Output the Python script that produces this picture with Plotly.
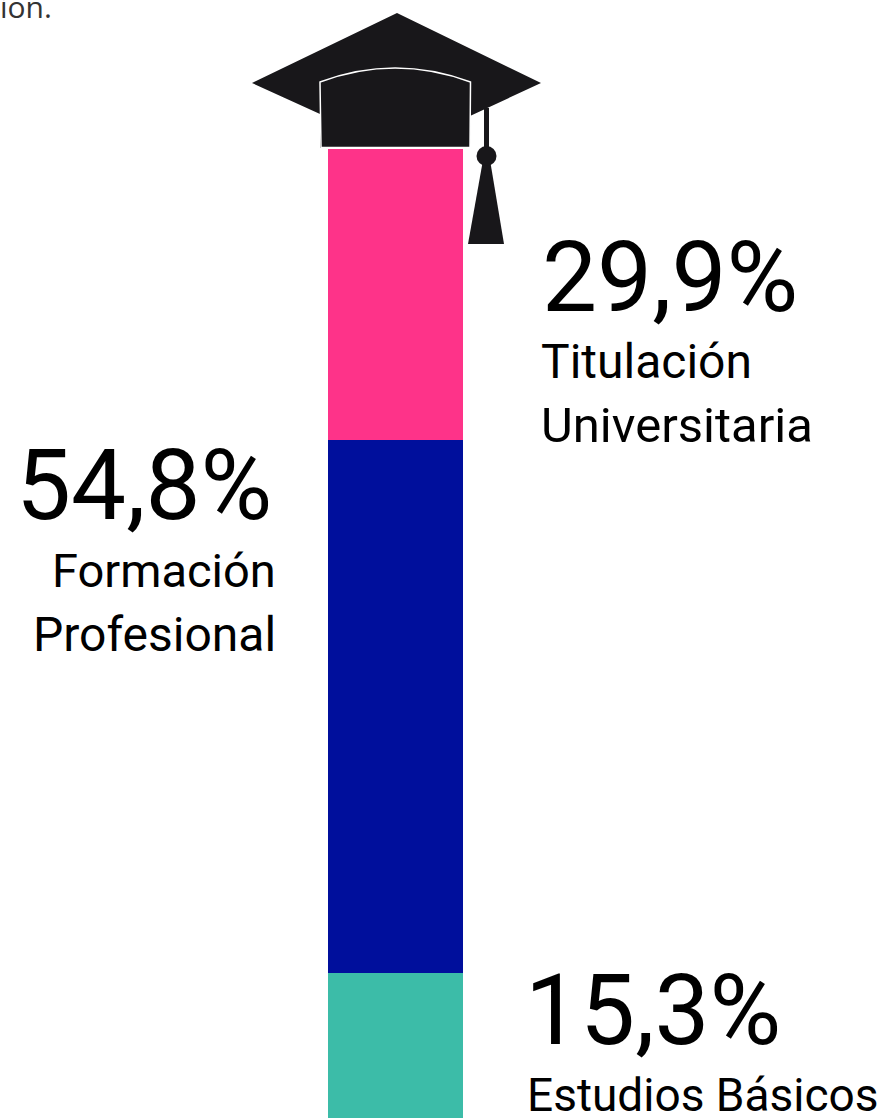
import plotly.graph_objects as go

categories = ["Estudios Básicos", "Formación Profesional", "Titulación Universitaria"]
values = [15.3, 54.8, 29.9]
colors = ["#3cbca8", "#000f9c", "#fe3389"]
value_labels = ["15,3%", "54,8%", "29,9%"]
W, H = 884, 1118
X0, X1 = 328, 463
TOP = 149
fig = go.Figure()
for c, v, col in zip(categories, values, colors):
    fig.add_trace(go.Bar(x=[0], y=[v], marker=dict(color=col, line=dict(width=0)), width=1, name=c,
                         showlegend=False, hovertemplate="%{fullData.name}: %{y}%<extra></extra>"))
fig.update_layout(
    barmode="stack", width=W, height=H, margin=dict(l=0, r=0, t=0, b=0, pad=0),
    paper_bgcolor="white", plot_bgcolor="white", autosize=False,
    xaxis=dict(visible=False, domain=[X0/W, X1/W], range=[-0.5, 0.5]),
    yaxis=dict(visible=False, domain=[0, (H-TOP)/H], range=[0.4, 100]),
)
def px(x): return x/W
def py(y): return 1-y/H
F = "Roboto"
def txt(x, y, s, size, anchor):
    fig.add_annotation(xref="paper", yref="paper", x=px(x), y=py(y), text=s, showarrow=False,
        xanchor=anchor, yanchor="middle", font=dict(size=size, color="#000", family=F))
txt(540, 277, value_labels[2], 98, "left")
txt(539, 361, "Titulación", 48, "left")
txt(539, 426, "Universitaria", 49, "left")
txt(274, 485, value_labels[1], 98, "right")
txt(278, 570, "Formación", 47, "right")
txt(278, 634, "Profesional", 48, "right")
txt(523, 1010, value_labels[0], 98, "left")
txt(525, 1095, "Estudios Básicos", 46, "left")
fig.add_annotation(xref="paper", yref="paper", x=px(54), y=py(7), text="ión.", showarrow=False, xanchor="right", yanchor="middle",
    font=dict(size=30, color="#333", family="Open Sans"))
def path(pts): return "M" + " L".join(f"{px(x)},{py(y)}" for x, y in pts) + " Z"
dark = "#18171a"
for pts in [[(252,83),(397,13),(541,83),(470,116),(470,148),(320,148),(320,114)],
            [(468,244),(483,160),(490,160),(504,244)]]:
    fig.add_shape(type="path", xref="paper", yref="paper", path=path(pts), fillcolor=dark, line_width=0)
fig.add_shape(type="path", xref="paper", yref="paper",
    path=f"M{px(321)},{py(147.5)} L{px(320)},{py(82)} Q{px(395)},{py(54)} {px(470.5)},{py(82)} L{px(470)},{py(147.5)} Z",
    fillcolor=dark, line=dict(color="white", width=1.5))
fig.add_shape(type="rect", xref="paper", yref="paper", x0=px(484), x1=px(489), y0=py(160), y1=py(108), fillcolor=dark, line_width=0)
fig.add_shape(type="circle", xref="paper", yref="paper", x0=px(476.5), x1=px(496.5), y0=py(166), y1=py(146), fillcolor=dark, line_width=0)
fig.write_html("out.html", config=dict(displayModeBar=False),
               post_script="document.body.style.margin='0';document.body.style.overflow='hidden';")
